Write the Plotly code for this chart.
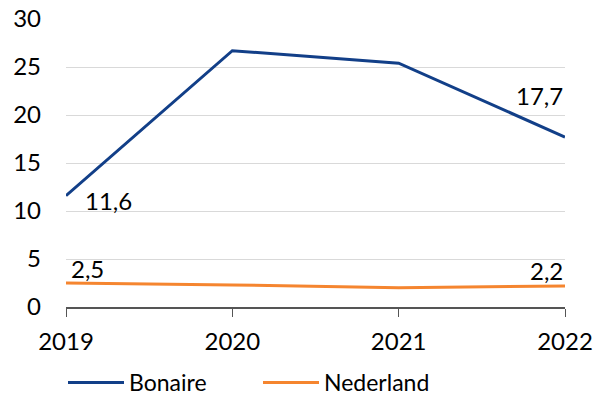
import plotly.graph_objects as go

years = [2019, 2020, 2021, 2022]
bonaire = [11.6, 26.7, 25.4, 17.7]
nederland = [2.5, 2.3, 2.0, 2.2]
y_ticks = [0, 5, 10, 15, 20, 25, 30]

def fmt(v):
    return f"{v:.1f}".replace(".", ",")

font = dict(family="Lato, Carlito, sans-serif", size=24, color="#000000")

fig = go.Figure()
fig.add_trace(go.Scatter(
    x=years, y=bonaire, name="Bonaire", mode="lines",
    line=dict(color="#123f88", width=3), cliponaxis=False,
))
fig.add_trace(go.Scatter(
    x=years, y=nederland, name="Nederland", mode="lines",
    line=dict(color="#f5852f", width=3), cliponaxis=False,
))

# data labels: (series, index, xanchor, xshift, yshift)
labels = [
    (bonaire, 0, "left", 17, -5),
    (bonaire, 3, "right", 0, 42),
    (nederland, 0, "left", 3, 15),
    (nederland, 3, "right", 0, 15),
]
for series, i, xa, xs, ys in labels:
    fig.add_annotation(x=years[i], y=series[i], text=fmt(series[i]),
                       showarrow=False, xanchor=xa, yanchor="middle",
                       xshift=xs, yshift=ys, font=font)

fig.update_layout(
    width=599, height=404,
    margin=dict(l=66, r=34, t=19, b=97, autoexpand=False),
    plot_bgcolor="white", paper_bgcolor="white",
    font=font,
    showlegend=True,
    legend=dict(orientation="h", xref="container", x=63 / 599, xanchor="left",
                yref="container", y=0, yanchor="bottom",
                font=dict(family="Lato, Carlito, sans-serif", size=23, color="#000000"),
                itemwidth=56, entrywidth=124, tracegroupgap=0),
    xaxis=dict(range=[2019, 2022], tickvals=years, ticks="outside", ticklen=8,
               tickcolor="#555555", showline=True, linecolor="#555555", linewidth=1.5,
               showgrid=False, zeroline=False, tickfont=font, ticklabelstandoff=4),
    yaxis=dict(range=[0, 30], tickvals=y_ticks, showgrid=True, gridcolor="#d9d9d9",
               gridwidth=1, zeroline=False, showline=False, ticks="",
               ticklabelstandoff=24, tickfont=font),
)

fig.write_html("out.html", config={"displayModeBar": False},
               post_script="document.body.style.margin='0';")
